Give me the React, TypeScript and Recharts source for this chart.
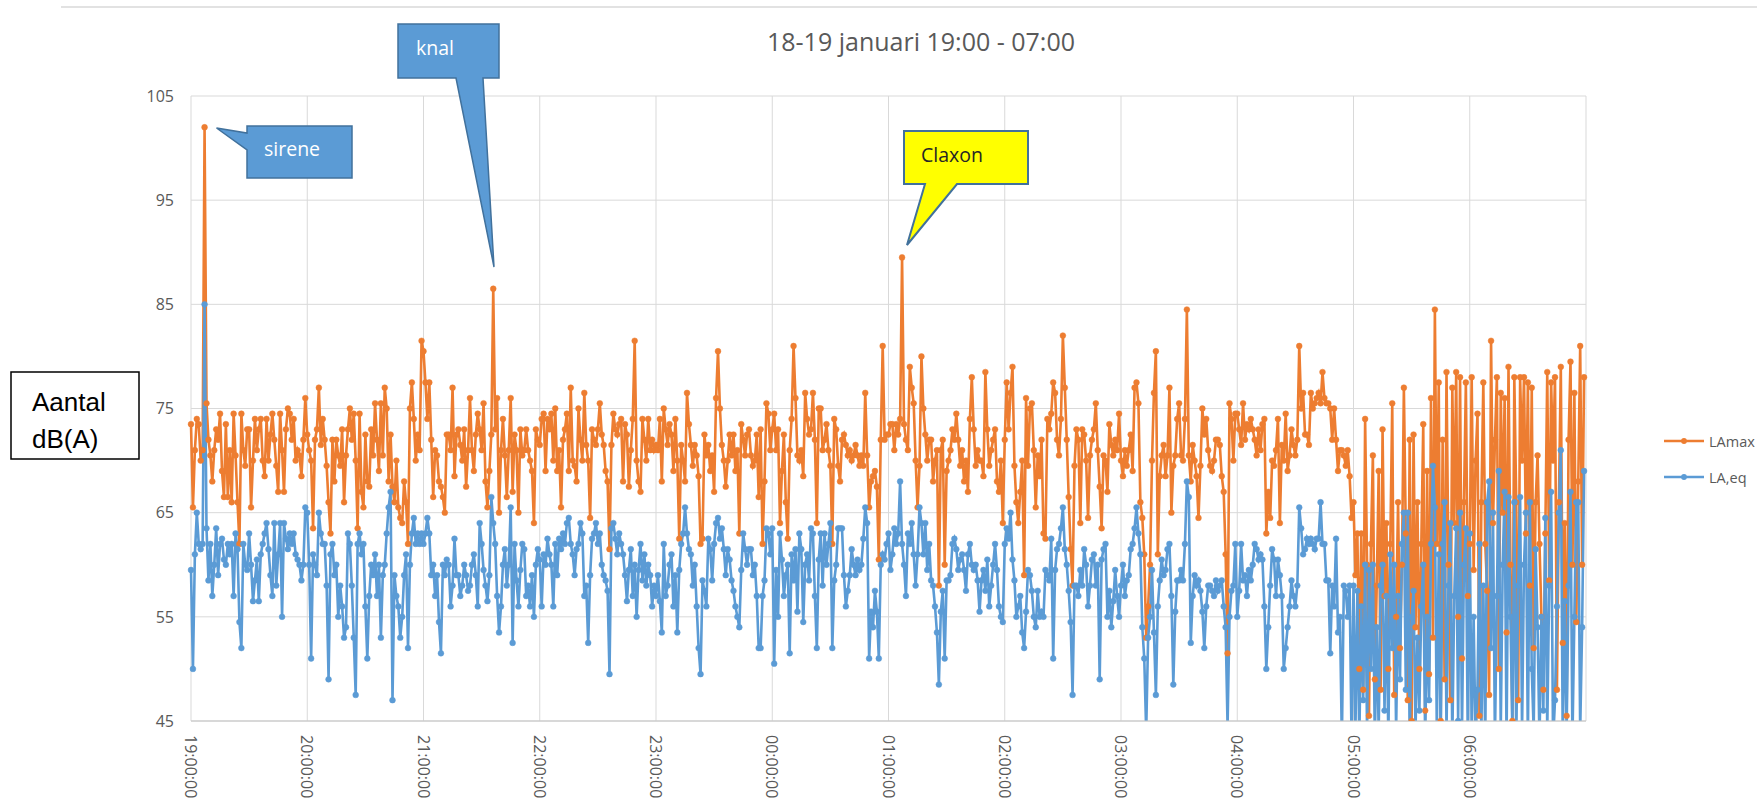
import React from "react";
import { LineChart, Line, XAxis, YAxis, CartesianGrid } from "recharts";

const hourLabels = ["19:00:00", "20:00:00", "21:00:00", "22:00:00", "23:00:00", "00:00:00", "01:00:00", "02:00:00", "03:00:00", "04:00:00", "05:00:00", "06:00:00"];
const yTicks = [45, 55, 65, 75, 85, 95, 105];
const seriesNames = ["LAmax", "LA,eq"];

// one value per minute, one array per hour
const lamax19 = [
  73.5, 65.5, 71, 74, 73.5, 70, 71, 102, 75.5, 72,
  70.5, 68, 71, 73, 72, 74.5, 69, 66.5, 73.5, 66.5,
  71, 66, 74.5, 70.5, 66, 62, 74.5, 71, 69.5, 73,
  73, 65.5, 70, 74, 71, 73, 74, 70, 68.5, 74,
  70, 72.5, 74.5, 72, 69.5, 67, 74.5, 71, 67, 73,
  75, 74.5, 72, 74, 70, 71, 70.5, 68.5, 72, 76,
];
const laeq19 = [
  59.5, 50, 61, 65, 62, 61.5, 62, 85, 63.5, 58.5,
  62, 57, 60, 63.5, 59, 62, 62.5, 60.5, 60, 62,
  61, 62, 57, 63, 61.5, 54.5, 52, 62, 60, 59.5,
  63, 60, 56.5, 58.5, 60.5, 56.5, 61, 62, 63, 64,
  61.5, 59, 57, 64, 58, 61, 64, 55, 64, 62.5,
  61.5, 63, 62, 63, 61, 60.5, 60, 58.5, 60, 65.5,
];
const lamax20 = [
  72.5, 71, 70, 63.5, 72, 73, 77, 71.5, 74, 72,
  69.5, 66, 63, 72, 68, 72, 70.5, 69.5, 73, 66,
  70.5, 73, 75, 72, 74.5, 70, 63.5, 74.5, 67, 65.5,
  72.5, 68, 67.5, 73, 70.5, 75.5, 72, 69, 75.5, 70.5,
  77, 75, 68, 72.5, 67.5, 66, 70, 65.5, 64.5, 64,
  68, 66, 62, 75, 77.5, 74, 70, 72.5, 71, 81.5,
];
const laeq20 = [
  65, 60, 51, 61, 60, 59, 65, 63, 62, 62,
  58, 49, 61, 62, 59, 60, 55, 58, 56, 53,
  54, 63, 62, 58, 53, 47.5, 62, 63, 61, 62,
  56, 51, 57, 60, 59, 61, 57, 60, 53, 59,
  60, 63, 65.5, 67, 47, 59, 57, 56, 53, 55,
  59, 61, 52, 60, 63, 64.5, 62, 63, 62, 63,
];
const lamax21 = [
  80.5, 77.5, 74, 77.5, 72, 66.5, 71, 70.5, 68, 67.5,
  66.5, 65, 72.5, 72.5, 71, 77, 68.5, 72.5, 73, 71.5,
  70, 73, 67.5, 71, 76, 71, 69, 72.5, 74.5, 73,
  71, 75.5, 68, 65.5, 69, 72.5, 86.5, 73, 76, 65,
  71, 74, 70.5, 66.5, 71, 76, 67, 72.5, 71, 65,
  73, 70.5, 71, 73, 71, 70, 69, 64, 73, 72,
];
const laeq21 = [
  62, 63, 64.5, 63, 59, 60, 57, 59, 54.5, 51.5,
  60, 59, 60.5, 60, 56, 58, 62.5, 59, 59, 57,
  58, 60, 59, 57.5, 58, 60, 61, 59, 56, 64,
  62, 59.5, 58, 56.5, 59, 66.5, 64, 62, 57, 53.5,
  56, 60, 61.5, 58, 60, 65.5, 52.5, 62, 58.5, 56,
  59.5, 62, 61.5, 57, 58, 56, 59, 55, 60, 61.5,
];
const lamax22 = [
  71.5, 74, 74.5, 69, 74, 73, 74.5, 70, 75, 69,
  71, 65.5, 72, 73, 74.5, 69, 77, 70, 69.5, 68,
  75, 72, 70, 76.5, 71.5, 70, 64.5, 73, 72, 71.5,
  73, 75.5, 72.5, 71.5, 69, 68, 61.5, 71.5, 74.5, 73,
  72.5, 73.5, 74, 68, 73.5, 72.5, 67.5, 71, 74, 81.5,
  70, 68, 67, 74, 72, 70, 74, 71, 72, 71,
];
const laeq22 = [
  60.5, 56, 61, 60, 62.5, 61, 60, 56, 62, 59,
  62.5, 61.5, 63, 62, 64, 64.5, 62, 61, 59, 61.5,
  62, 64, 63, 57, 58, 52.5, 59, 62.5, 63, 64,
  62, 63, 60, 59, 58.5, 57.5, 49.5, 63.5, 64, 62.5,
  61, 63, 62, 61, 59, 56.5, 59.5, 61.5, 57, 60,
  55, 59.5, 62, 58.5, 61, 58, 60, 59, 56, 58,
];
const lamax23 = [
  71.5, 71, 74, 68, 75, 73, 71.5, 73.5, 72.5, 69,
  74, 70, 62.5, 71.5, 70, 68, 76.5, 73.5, 71.5, 69.5,
  71.5, 70.5, 68.5, 62, 62.5, 72.5, 70.5, 71.5, 69, 70.5,
  67, 76, 80.5, 75, 71.5, 70, 67.5, 70, 72.5, 70.5,
  72.5, 69, 71, 63, 73.5, 72, 70.5, 72.5, 73, 70.5,
  69.5, 70, 72.5, 66.5, 73, 62, 68, 75.5, 74.5, 71,
];
const laeq23 = [
  57, 59, 56.5, 53.5, 62, 57, 58, 60, 61, 56,
  59, 53.5, 59.5, 62, 63, 65.5, 63, 61.5, 61, 58,
  60, 56, 52, 49.5, 58.5, 57.5, 56, 62.5, 61.5, 58.5,
  62, 64, 64.5, 62.5, 63.5, 61.5, 59, 61.5, 60.5, 58.5,
  57.5, 56, 55, 54, 59.5, 63, 61.5, 60, 61.5, 61.5,
  59, 60, 57, 52, 52, 57, 58.5, 63.5, 63, 61,
];
const lamax00 = [
  73, 74.5, 71, 73, 64, 69, 72.5, 66, 62.5, 71,
  74, 81, 76, 70.5, 70, 71, 68.5, 76.5, 74, 72.5,
  73, 76.5, 72, 64, 75, 75, 71, 72, 73.5, 71,
  69.5, 62, 74, 73, 69.5, 68, 72, 72.5, 71.5, 70.5,
  71, 70, 70.5, 71.5, 70.5, 69.5, 70.5, 69.5, 76.5, 70.5,
  65.5, 68, 68.5, 69, 67.5, 60.5, 72, 81, 72, 72.5,
];
const laeq00 = [
  63.5, 50.5, 59.5, 55, 63, 60.5, 57, 59, 60, 51.5,
  61, 58.5, 61.5, 55.5, 63, 61.5, 54.5, 60, 61, 58.5,
  63.5, 63, 57, 52, 60.5, 63, 58, 63, 60, 62,
  64, 52, 58.5, 60, 63.5, 63.5, 63.5, 59, 56, 57.5,
  59, 61.5, 60, 59, 60.5, 59.5, 60, 62.5, 65.5, 64,
  51, 55.5, 54, 57.5, 55.5, 51, 60, 61, 60.5, 62,
];
const lamax01 = [
  72.5, 73.5, 73.5, 71, 73.5, 72.5, 74, 89.5, 73.5, 72,
  71, 79, 77, 75.5, 70, 65.5, 69.5, 80, 75, 72.5,
  70, 72, 72, 68, 70, 71, 58, 71, 72, 60,
  69, 70, 71, 73, 72, 74.5, 72, 69.5, 71, 68,
  70, 67, 74, 78, 73, 69.5, 71, 70, 70, 68.5,
  78.5, 73, 69.5, 71, 72, 73, 68, 67, 70, 64,
];
const laeq01 = [
  63, 59.5, 61, 63.5, 62, 63, 68, 62, 60, 57,
  63, 62, 64, 61, 58, 61, 65.5, 64, 61, 64,
  59.5, 62, 58.5, 58, 56, 53.5, 48.5, 55.5, 57.5, 51,
  58.5, 58.5, 59, 62, 62.5, 61.5, 59.5, 60.5, 61, 59.5,
  57.5, 61, 62, 60, 59.5, 60, 58.5, 55.5, 58.5, 59.5,
  57.5, 60.5, 56, 58, 60, 62, 59.5, 56, 55, 54.5,
];
const lamax02 = [
  72, 77.5, 73, 76.5, 79, 69.5, 66, 64, 67, 70,
  59, 76, 69.5, 75, 75.5, 71, 65.5, 70.5, 68.5, 72,
  63, 62.5, 74, 73, 74.5, 77.5, 76.5, 72, 70.5, 74,
  82, 77, 72, 66.5, 61.5, 58, 69.5, 73, 72, 64,
  73, 72.5, 70, 64.5, 70.5, 72, 73, 75.5, 71, 67.5,
  63.5, 70.5, 70, 67, 73.5, 71.5, 70.5, 72, 71, 74.5,
];
const laeq02 = [
  62, 63.5, 62.5, 65, 60.5, 58.5, 55, 56, 57, 53.5,
  52, 55.5, 59.5, 59, 57.5, 55, 54, 57.5, 55, 55.5,
  55, 59.5, 59, 58.5, 62.5, 51, 59.5, 61.5, 62, 63.5,
  65.5, 61.5, 60, 57.5, 54.5, 47.5, 58, 58, 57, 59.5,
  58, 61.5, 60, 56, 58, 60.5, 61, 58, 60, 49,
  60.5, 61.5, 62, 55, 57.5, 54, 56.5, 59.5, 57, 55,
];
const lamax03 = [
  70, 68.5, 71, 69.5, 71, 72.5, 69, 77, 77.5, 75.5,
  66, 64.5, 61, 53, 56, 60, 70, 76.5, 80.5, 61,
  68.5, 70.5, 71.5, 68.5, 70.5, 77, 65, 69.5, 70.5, 74,
  75.5, 70.5, 70, 74, 84.5, 70.5, 68, 71.5, 70, 68.5,
  64.5, 69.5, 75, 72.5, 74, 71, 69.5, 69, 70, 72,
  72, 71.5, 68.5, 67, 61, 51.5, 75.5, 74, 70, 74.5,
];
const laeq03 = [
  58, 60, 57, 58.5, 59, 61.5, 62, 63.5, 65.5, 63,
  61, 54, 51, 44, 53, 55, 59.5, 53.5, 47.5, 56,
  58.5, 60.5, 59, 59.5, 61.5, 62, 57, 48.5, 55.5, 58.5,
  58.5, 59.5, 58.5, 62, 68, 66.5, 52.5, 57, 59, 58,
  58.5, 57.5, 55.5, 52, 56, 58, 58, 57.5, 57, 58.5,
  57.5, 58, 58.5, 56, 54, 44.5, 55, 57.5, 58, 62,
];
const lamax04 = [
  74.5, 73, 71.5, 75.5, 72, 73.5, 73, 74, 73, 72,
  70.5, 73, 71, 73.5, 74, 63, 67, 64.5, 70, 69.5,
  71, 74, 64, 71.5, 70, 74.5, 69, 70.5, 73, 71.5,
  70.5, 72, 81, 75, 76.5, 72.5, 72.5, 71.5, 76.5, 75,
  75.5, 76, 76.5, 75.5, 78.5, 76, 75.5, 75.5, 75, 72,
  75, 72, 69, 71, 71, 70.5, 69.5, 71, 68.5, 64.5,
];
const laeq04 = [
  55, 57.5, 62, 58.5, 59, 57, 59.5, 58.5, 60, 62,
  61.5, 60.5, 61, 60.5, 56, 50, 54, 58, 61.5, 60.5,
  57, 60.5, 59, 57, 50, 52, 54, 56, 58.5, 57,
  56, 58, 65.5, 63.5, 61, 61.5, 62.5, 62, 62.5, 62,
  61.5, 62.5, 62.5, 66, 62, 62, 58.5, 58.5, 51.5, 58,
  56, 62.5, 53.5, 55, 43, 58, 57.5, 55, 58, 43,
];
const lamax05 = [
  66, 59, 63, 50, 63, 48, 74, 60, 45.5, 62,
  70.5, 49, 58, 69, 48, 73, 57, 64, 50, 62,
  75.5, 47.5, 55, 66, 52, 60, 77, 63, 47, 72,
  45, 72.5, 54, 66, 50, 62, 73.5, 46, 69, 49.5,
  76, 53, 84.5, 62, 77.5, 45, 72, 49, 78.5, 60,
  47, 77, 64, 78.5, 55, 78, 51, 66, 77.5, 57,
];
const laeq05 = [
  58, 44, 57.5, 43, 56, 47, 60, 44, 59.5, 50,
  60, 43, 54, 44, 58, 60, 46, 57, 43, 61,
  52, 60, 44, 57, 49, 62, 65, 48, 65, 43,
  55, 57.5, 44, 53, 46, 56, 60, 43, 55, 47,
  62, 69.5, 65.5, 44, 61, 43, 62, 66, 44, 58,
  64, 43, 57, 63.5, 45, 65, 44, 60, 63.5, 43,
];
const lamax06 = [
  62, 78, 59.5, 70, 74.5, 45.5, 66, 77.5, 62, 57.5,
  47.5, 81.5, 64, 72, 78, 50, 76.5, 65, 76, 53.5,
  79, 60, 45, 78, 66, 47, 78, 70, 78, 63,
  77.5, 58, 77, 52, 66, 70.5, 62, 55, 48, 63,
  78.5, 58.5, 77.5, 70, 78, 48, 66, 79, 52.5, 64,
  45.5, 72, 79.5, 60, 76.5, 54.5, 68, 81, 60, 78,
];
const laeq06 = [
  63, 44, 55, 43, 48, 62, 44, 58, 43, 66,
  68, 52, 65, 43, 57, 69, 44, 60, 67, 43,
  66.5, 55, 44, 66, 43, 58, 66.5, 44, 60, 65,
  43, 66, 50, 44, 61.5, 54, 43, 55, 46, 64.5,
  44, 58, 67, 43, 47, 56, 65, 71, 43, 56.5,
  44, 58, 67, 43, 55, 66, 66, 44, 54, 69,
];

const lamaxHours = [lamax19, lamax20, lamax21, lamax22, lamax23, lamax00, lamax01, lamax02, lamax03, lamax04, lamax05, lamax06];
const laeqHours = [laeq19, laeq20, laeq21, laeq22, laeq23, laeq00, laeq01, laeq02, laeq03, laeq04, laeq05, laeq06];

const lamax = lamaxHours.flat();
const laeq = laeqHours.flat();
const chartData = lamax.map((v, i) => ({ t: i, lamax: v, laeq: laeq[i] }));
const xTicks = hourLabels.map((_, i) => i * 60);

const ORANGE = "#ed7d31";
const BLUE = "#5b9bd5";
const GRID = "#d9d9d9";
const TEXT = "#595959";
const FONT = "'Open Sans', 'Noto Sans', sans-serif";

const HourTick = (props: any) => {
  const { x, y, payload } = props;
  const label = hourLabels[Math.round(payload.value / 60)] ?? "";
  return (
    <text
      x={x}
      y={y}
      transform={`rotate(90, ${x}, ${y})`}
      textAnchor="start"
      dominantBaseline="central"
      fontSize={16}
      fontFamily={FONT}
      fill={TEXT}
    >
      {label}
    </text>
  );
};

export default function App() {
  return (
    <div style={{ position: "absolute", left: 0, top: 0, width: 1757, height: 805, background: "#fff" }}>
      <LineChart width={1757} height={805} data={chartData} margin={{ top: 96, right: 171, bottom: 4, left: 131 }}>
        <CartesianGrid stroke={GRID} strokeWidth={1} />
        <XAxis
          dataKey="t"
          type="number"
          domain={[0, 720]}
          ticks={xTicks}
          interval={0}
          height={80}
          tickLine={false}
          tickMargin={8}
          axisLine={{ stroke: "#c4c4c4" }}
          tick={<HourTick />}
        />
        <YAxis
          type="number"
          domain={[45, 105]}
          ticks={yTicks}
          allowDataOverflow
          width={60}
          axisLine={false}
          tickLine={false}
          tickMargin={11}
          tick={{ fill: TEXT, fontSize: 16, fontFamily: FONT }}
        />
        <Line
          dataKey="lamax"
          name={seriesNames[0]}
          stroke={ORANGE}
          strokeWidth={2.6}
          dot={{ r: 2.9, fill: ORANGE, stroke: ORANGE, strokeWidth: 0.5 }}
          isAnimationActive={false}
        />
        <Line
          dataKey="laeq"
          name={seriesNames[1]}
          stroke={BLUE}
          strokeWidth={2.6}
          dot={{ r: 2.9, fill: BLUE, stroke: BLUE, strokeWidth: 0.5 }}
          isAnimationActive={false}
        />
      </LineChart>

      <svg width={1757} height={805} style={{ position: "absolute", left: 0, top: 0, pointerEvents: "none" }}>
        <line x1={61} y1={7} x2={1757} y2={7} stroke={GRID} strokeWidth={1.5} />
        <text x={921} y={51} textAnchor="middle" fontSize={25} fontFamily={FONT} fill={TEXT}>
          18-19 januari 19:00 - 07:00
        </text>

        {/* sirene */}
        <polygon
          points="247,126 352,126 352,178 247,178 247,150 216.5,128 247,133"
          fill={BLUE}
          stroke="#41719c"
          strokeWidth={1.5}
        />
        <text x={264} y={156} fontSize={19.5} fontFamily={FONT} fill="#fff">sirene</text>

        {/* knal */}
        <polygon
          points="398,24 499,24 499,78 483,78 494,267 456,78 398,78"
          fill={BLUE}
          stroke="#41719c"
          strokeWidth={1.5}
        />
        <text x={416} y={55} fontSize={19.5} fontFamily={FONT} fill="#fff">knal</text>

        {/* Claxon */}
        <polygon
          points="904,131 1028,131 1028,184 957,184 907,245 925,184 904,184"
          fill="#ffff00"
          stroke="#41719c"
          strokeWidth={2}
        />
        <text x={921} y={162} fontSize={19.5} fontFamily={FONT} fill="#262626">Claxon</text>

        {/* y-axis caption box */}
        <rect x={11} y={372} width={128} height={87} fill="#fff" stroke="#000" strokeWidth={1.5} />
        <text x={32} y={411} fontSize={26} fontFamily="'Liberation Sans', Arial, sans-serif" fill="#000">Aantal</text>
        <text x={32} y={448} fontSize={26} fontFamily="'Liberation Sans', Arial, sans-serif" fill="#000">dB(A)</text>

        {/* legend */}
        <line x1={1664} y1={441} x2={1704} y2={441} stroke={ORANGE} strokeWidth={2.6} />
        <circle cx={1684} cy={441} r={2.9} fill={ORANGE} />
        <text x={1709} y={441} dominantBaseline="central" fontSize={14.5} fontFamily={FONT} fill={TEXT}>{seriesNames[0]}</text>
        <line x1={1664} y1={477} x2={1704} y2={477} stroke={BLUE} strokeWidth={2.6} />
        <circle cx={1684} cy={477} r={2.9} fill={BLUE} />
        <text x={1709} y={477} dominantBaseline="central" fontSize={14.5} fontFamily={FONT} fill={TEXT}>{seriesNames[1]}</text>
      </svg>
    </div>
  );
}
